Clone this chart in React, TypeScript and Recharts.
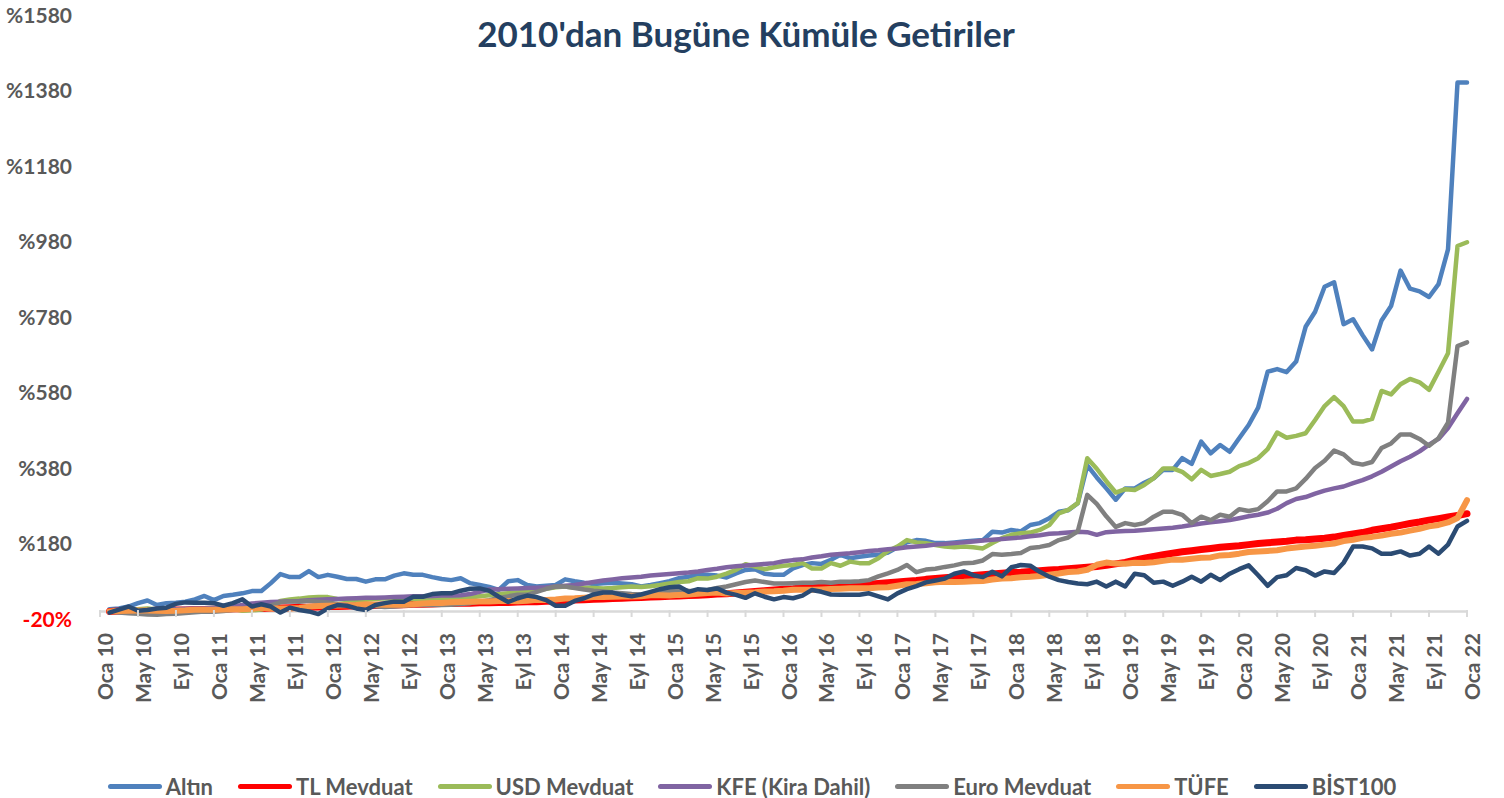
import { LineChart, Line, XAxis, YAxis, ReferenceLine, Legend } from "recharts";

// Aylık kümüle getiriler (%), Ocak 2010 - Aralık 2021
const X_LABELS = [
  "Oca 10", "May 10", "Eyl 10",
  "Oca 11", "May 11", "Eyl 11",
  "Oca 12", "May 12", "Eyl 12",
  "Oca 13", "May 13", "Eyl 13",
  "Oca 14", "May 14", "Eyl 14",
  "Oca 15", "May 15", "Eyl 15",
  "Oca 16", "May 16", "Eyl 16",
  "Oca 17", "May 17", "Eyl 17",
  "Oca 18", "May 18", "Eyl 18",
  "Oca 19", "May 19", "Eyl 19",
  "Oca 20", "May 20", "Eyl 20",
  "Oca 21", "May 21", "Eyl 21",
  "Oca 22",
];
const X_TICKS = X_LABELS.map((_, i) => i * 4);
const Y_TICKS = [-20, 180, 380, 580, 780, 980, 1180, 1380, 1580];

const ALTIN = [
  6, 8, 13, 22, 29, 17, 22, 23, 26, 32, 41, 30,
  41, 44, 48, 54, 54, 75, 99, 91, 91, 107, 91, 97,
  92, 86, 86, 79, 85, 85, 95, 101, 97, 97, 91, 86,
  83, 88, 75, 70, 65, 57, 80, 83, 70, 66, 68, 70,
  85, 80, 76, 73, 75, 76, 74, 72, 66, 70, 75, 80,
  88, 92, 97, 97, 95, 90, 101, 110, 112, 100, 97, 97,
  114, 123, 128, 126, 137, 150, 141, 145, 148, 150, 156, 170,
  183, 189, 187, 181, 181, 183, 185, 187, 189, 211, 209, 216,
  212, 229, 234, 247, 264, 268, 287, 387, 355, 326, 296, 326,
  326, 341, 353, 375, 375, 406, 391, 450, 419, 441, 423, 459,
  494, 540, 635, 642, 634, 662, 754, 794, 860, 872, 761, 774,
  732, 694, 771, 809, 903, 855, 848, 833, 867, 959, 1401, 1401,
];

const TL_MEVDUAT = [
  0, 1, 1, 2, 2, 3, 3, 4, 4, 5, 5, 6,
  6, 7, 7, 8, 8, 9, 9, 10, 11, 11, 12, 13,
  13, 14, 15, 15, 16, 17, 17, 18, 19, 19, 20, 21,
  21, 22, 22, 23, 23, 24, 24, 25, 26, 26, 27, 28,
  29, 30, 31, 32, 33, 34, 35, 36, 37, 38, 39, 40,
  41, 42, 43, 44, 46, 47, 49, 51, 53, 55, 57, 59,
  60, 62, 63, 65, 66, 68, 69, 71, 72, 74, 76, 78,
  80, 82, 85, 87, 89, 91, 93, 95, 97, 99, 101, 103,
  104, 106, 108, 110, 111, 113, 115, 117, 119, 122, 126, 130,
  136, 141, 146, 150, 154, 158, 161, 164, 167, 170, 172, 174,
  177, 180, 182, 184, 186, 189, 190, 192, 194, 197, 201, 205,
  209, 215, 219, 223, 228, 233, 237, 242, 246, 250, 254, 259,
];

const USD_MEVDUAT = [
  0, 3, 4, 6, 8, 5, 3, 2, 1, 0, 2, 3,
  4, 7, 2, 3, 5, 12, 28, 32, 34, 37, 38, 38,
  33, 30, 29, 31, 33, 35, 33, 32, 32, 33, 33, 34,
  33, 35, 37, 40, 43, 46, 48, 50, 52, 56, 60, 64,
  66, 63, 63, 62, 61, 62, 64, 66, 65, 67, 70, 74,
  78, 80, 88, 87, 92, 100, 110, 125, 119, 112, 117, 121,
  123, 128, 114, 114, 128, 121, 132, 128, 128, 141, 160, 172,
  189, 183, 181, 176, 172, 170, 172, 170, 167, 181, 194, 203,
  207, 209, 216, 229, 260, 269, 287, 406, 378, 345, 315, 324,
  322, 335, 353, 379, 379, 370, 350, 375, 359, 364, 370, 385,
  393, 406, 430, 474, 460, 465, 472, 507, 544, 568, 544, 503,
  503, 510, 584, 575, 602, 616, 607, 587, 635, 684, 968, 978,
];

const KFE = [
  0, 1, 2, 3, 4, 4, 5, 6, 7, 8, 8, 9,
  11, 13, 17, 21, 23, 25, 26, 27, 28, 30, 31, 32,
  33, 34, 35, 36, 36, 37, 38, 39, 40, 40, 41, 42,
  42, 43, 46, 52, 58, 59, 60, 61, 62, 63, 64, 66,
  68, 70, 74, 78, 82, 85, 88, 90, 92, 95, 97, 99,
  101, 103, 106, 110, 113, 117, 120, 122, 124, 126, 128, 133,
  136, 138, 143, 146, 150, 152, 154, 157, 160, 162, 165, 167,
  170, 172, 174, 177, 179, 181, 183, 185, 188, 190, 192, 194,
  196, 199, 202, 206, 207, 209, 211, 210, 203, 210, 212, 213,
  214, 216, 218, 220, 222, 225, 229, 233, 236, 239, 242, 247,
  252, 256, 262, 272, 287, 298, 303, 312, 320, 326, 331, 340,
  348, 358, 370, 384, 398, 410, 424, 442, 457, 486, 525, 563,
];

const EURO_MEVDUAT = [
  0, -3, -5, -6, -8, -9, -7, -6, -4, -2, 0, -1,
  1, 4, 6, 7, 10, 16, 24, 27, 26, 28, 26, 24,
  20, 18, 17, 16, 14, 12, 13, 15, 17, 18, 17, 17,
  18, 20, 22, 26, 30, 36, 40, 44, 44, 52, 60, 66,
  66, 62, 58, 55, 53, 50, 48, 46, 45, 48, 52, 55,
  57, 55, 54, 57, 62, 66, 72, 78, 82, 78, 74, 74,
  75, 76, 76, 78, 76, 79, 79, 80, 83, 93, 101, 110,
  123, 104, 111, 113, 118, 122, 128, 129, 135, 152, 150, 152,
  155, 168, 171, 176, 189, 196, 212, 309, 285, 252, 224, 234,
  229, 234, 251, 264, 264, 256, 234, 251, 242, 256, 251, 271,
  266, 271, 292, 318, 318, 326, 351, 380, 399, 426, 416, 394,
  389, 396, 433, 445, 469, 469, 457, 439, 459, 500, 703, 713,
];

const TUFE = [
  0, 1.4, 2.0, 2.6, 2.3, 1.7, 1.2, 1.6, 2.9, 4.8, 4.8, 4.5,
  4.9, 5.7, 6.1, 7.0, 9.6, 8.0, 7.6, 7.6, 9.1, 12.8, 14.7, 15.4,
  16.0, 16.7, 17.2, 18.9, 18.7, 17.6, 17.5, 18.0, 19.2, 21.3, 22.2, 22.5,
  24.5, 24.9, 25.7, 26.2, 26.4, 27.8, 27.4, 27.2, 28.6, 30.8, 30.3, 31.6,
  34.2, 34.7, 36.3, 38.1, 38.6, 39.1, 39.7, 39.8, 40.1, 42.7, 42.9, 42.3,
  43.9, 44.9, 46.6, 49.0, 49.9, 47.8, 49.1, 49.8, 50.7, 52.9, 53.3, 54.8,
  57.6, 57.4, 57.4, 58.4, 59.5, 60.2, 61.3, 61.2, 61.3, 63.4, 63.9, 68.1,
  72.2, 72.8, 74.7, 77.6, 78.5, 78.2, 78.6, 79.8, 80.9, 84.6, 87.4, 88.1,
  90.5, 91.8, 93.7, 97.4, 100.7, 104.7, 105.9, 110.4, 123.6, 129.5, 126.7, 126.3,
  129.0, 128.6, 130.5, 134.0, 137.3, 137.2, 139.8, 142.0, 143.2, 148.4, 149.6, 153.1,
  157.5, 158.6, 160.2, 162.3, 166.5, 169.4, 172.3, 174.1, 177.0, 180.0, 186.4, 190.0,
  194.9, 197.5, 200.9, 205.8, 208.8, 214.0, 219.0, 225.4, 229.2, 235.8, 247.5, 294.6,
];

const BIST100 = [
  -3, 5, 13, 2, 4, 8, 10, 20, 24, 23, 23, 22,
  15, 22, 32, 13, 19, 13, -3, 10, 4, 0, -7, 8,
  17, 15, 8, 4, 17, 22, 26, 26, 39, 39, 46, 48,
  48, 55, 60, 61, 55, 39, 25, 35, 42, 38, 30, 15,
  15, 28, 35, 45, 50, 50, 44, 40, 45, 52, 59, 64,
  66, 52, 59, 57, 61, 50, 44, 36, 48, 39, 32, 38,
  35, 42, 57, 52, 45, 44, 44, 44, 48, 40, 32, 48,
  59, 67, 77, 82, 87, 100, 106, 96, 91, 105, 93, 117,
  123, 121, 105, 92, 83, 78, 74, 72, 79, 66, 79, 66,
  100, 96, 76, 79, 68, 79, 92, 79, 97, 83, 100, 112,
  122, 96, 68, 91, 96, 115, 109, 95, 106, 102, 129, 172,
  172, 167, 153, 153, 159, 148, 153, 172, 153, 177, 225, 240,
];

const SERIES = [
  { key: "altin", name: "Altın", color: "#4F81BD", width: 4.5, values: ALTIN },
  { key: "tl", name: "TL Mevduat", color: "#FF0000", width: 7, values: TL_MEVDUAT },
  { key: "usd", name: "USD Mevduat", color: "#9BBB59", width: 4.5, values: USD_MEVDUAT },
  { key: "kfe", name: "KFE (Kira Dahil)", color: "#8064A2", width: 4.5, values: KFE },
  { key: "euro", name: "Euro Mevduat", color: "#808080", width: 4.5, values: EURO_MEVDUAT },
  { key: "tufe", name: "TÜFE", color: "#F79646", width: 6, values: TUFE },
  { key: "bist", name: "BİST100", color: "#2B4B73", width: 4.5, values: BIST100 },
];

// ay = ay sonu itibarıyla geçen ay sayısı (Oca 10 sonu = 1)
const data = ALTIN.map((_, k) => {
  const row: Record<string, number> = { ay: k + 1 };
  SERIES.forEach((s) => {
    row[s.key] = s.values[k];
  });
  return row;
});

const AXIS_FONT = {
  fontFamily: "Lato",
  fontWeight: "bold" as const,
  fontSize: 21,
};

function XTick(props: any) {
  const { x, y, payload } = props;
  const label = X_LABELS[X_TICKS.indexOf(payload.value)];
  const tx = x + 13;
  const ty = y + 14;
  return (
    <g>
      <line x1={x} x2={x} y1={y - 9} y2={y - 2} stroke="#D9D9D9" strokeWidth={2} />
      <text
        x={tx}
        y={ty}
        textAnchor="end"
        transform={`rotate(-90 ${tx} ${ty})`}
        fill="#595959"
        {...AXIS_FONT}
      >
        {label}
      </text>
    </g>
  );
}

function YTick(props: any) {
  const { x, y, payload } = props;
  const v = payload.value;
  const neg = v < 0;
  return (
    <text
      x={x}
      y={y}
      dy="0.36em"
      textAnchor="end"
      fill={neg ? "#FF0000" : "#595959"}
      {...AXIS_FONT}
    >
      {neg ? `${v}%` : `%${v}`}
    </text>
  );
}

function LegendRow() {
  return (
    <div
      style={{
        display: "flex",
        justifyContent: "center",
        alignItems: "center",
        gap: 25,
        height: 24,
        color: "#595959",
        fontFamily: "Lato",
        fontWeight: 700,
        fontSize: 22,
      }}
    >
      {SERIES.map((s) => (
        <div key={s.key} style={{ display: "flex", alignItems: "center" }}>
          <span
            style={{
              display: "inline-block",
              width: 54,
              height: 5,
              borderRadius: 3,
              background: s.color,
              marginRight: 4,
            }}
          />
          <span>{s.name}</span>
        </div>
      ))}
    </div>
  );
}

export default function App() {
  return (
    <div style={{ position: "relative", width: 1504, height: 798, background: "#fff" }}>
      <style>{"body{margin:0}"}</style>
      <div
        style={{
          position: "absolute",
          top: 12,
          left: 0,
          width: 1492,
          textAlign: "center",
          fontFamily: "Lato",
          fontWeight: 700,
          fontSize: 35,
          color: "#243F60",
          zIndex: 2,
        }}
      >
        2010'dan Bugüne Kümüle Getiriler
      </div>
      <LineChart
        width={1504}
        height={798}
        data={data}
        margin={{ top: 15, right: 37, left: 0, bottom: 0 }}
      >
        <XAxis
          dataKey="ay"
          type="number"
          domain={[0, 144]}
          ticks={X_TICKS}
          interval={0}
          height={155}
          axisLine={false}
          tickLine={false}
          tickSize={0}
          tickMargin={0}
          tick={<XTick />}
        />
        <YAxis
          type="number"
          domain={[-20, 1580]}
          ticks={Y_TICKS}
          interval={0}
          width={100}
          axisLine={false}
          tickLine={false}
          tickSize={0}
          tickMargin={28}
          tick={<YTick />}
        />
        <ReferenceLine y={0} stroke="#D9D9D9" strokeWidth={2.5} />
        {SERIES.map((s) => (
          <Line
            key={s.key}
            type="linear"
            dataKey={s.key}
            name={s.name}
            stroke={s.color}
            strokeWidth={s.width}
            strokeLinecap="round"
            strokeLinejoin="round"
            dot={false}
            activeDot={false}
            isAnimationActive={false}
          />
        ))}
        <Legend
          verticalAlign="bottom"
          align="center"
          wrapperStyle={{ left: 0, width: 1504 }}
          content={() => <LegendRow />}
        />
      </LineChart>
    </div>
  );
}
